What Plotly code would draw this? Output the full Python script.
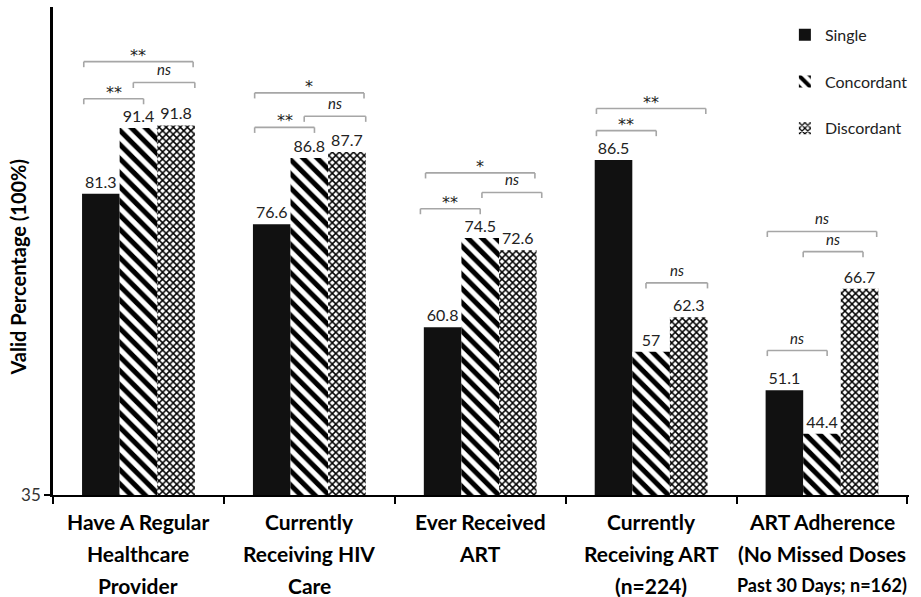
import plotly.graph_objects as go

# ---------------- data ----------------
categories = [
    "Have A Regular Healthcare Provider",
    "Currently Receiving HIV Care",
    "Ever Received ART",
    "Currently Receiving ART (n=224)",
    "ART Adherence (No Missed Doses Past 30 Days; n=162)",
]
category_lines = [
    ["Have A Regular", "Healthcare", "Provider"],
    ["Currently", "Receiving HIV", "Care"],
    ["Ever Received", "ART"],
    ["Currently", "Receiving ART", "(n=224)"],
    ["ART Adherence", "(No Missed Doses", "Past 30 Days; n=162)"],
]
series_names = ["Single", "Concordant", "Discordant"]
single = [81.3, 76.6, 60.8, 86.5, 51.1]
concordant = [91.4, 86.8, 74.5, 57, 44.4]
discordant = [91.8, 87.7, 72.6, 62.3, 66.7]
y_tick_values = [35]

# significance labels: (category index, comparison, label)
significance = [
    (0, "SC", "**"), (0, "CD", "ns"), (0, "SD", "**"),
    (1, "SC", "**"), (1, "CD", "ns"), (1, "SD", "*"),
    (2, "SC", "**"), (2, "CD", "ns"), (2, "SD", "*"),
    (3, "SC", "**"), (3, "CD", "ns"), (3, "SD", "**"),
    (4, "SC", "ns"), (4, "CD", "ns"), (4, "SD", "ns"),
]

# ---------------- layout of brackets (positions, not data) ----------------
bracket_level = {
    (0, "SC"): 95.9, (0, "CD"): 98.4, (0, "SD"): 101.6,
    (1, "SC"): 91.5, (1, "CD"): 93.2, (1, "SD"): 96.8,
    (2, "SC"): 79.0, (2, "CD"): 81.5, (2, "SD"): 84.5,
    (3, "SC"): 91.0, (3, "CD"): 67.6, (3, "SD"): 94.4,
    (4, "SC"): 57.2, (4, "CD"): 72.4, (4, "SD"): 75.5,
}
bracket_span = {"SC": (-0.32, 0.03), "CD": (-0.03, 0.33), "SD": (-0.32, 0.32)}
bracket_span_override = {(2, "SC"): (-0.35, 0.0), (2, "CD"): (0.01, 0.36),
                         (4, "CD"): (-0.11, 0.24)}

FONT = "Lato"
TEXT_COLOR = "#222222"

fig = go.Figure()
styles = [
    dict(color="#111111"),
    dict(color="white", pattern=dict(shape="\\", fgcolor="black", bgcolor="white",
                                     size=10, solidity=0.5, fillmode="replace", fgopacity=1)),
    dict(color="white", pattern=dict(shape="x", fgcolor="black", bgcolor="white",
                                     size=5, solidity=0.5, fillmode="replace", fgopacity=1)),
]
for name, vals, st in zip(series_names, [single, concordant, discordant], styles):
    fig.add_trace(go.Bar(
        x=categories, y=vals, name=name, legendgroup=name,
        marker=dict(line=dict(width=0), **st),
        texttemplate="%{y}", textposition="outside",
        textfont=dict(family=FONT, size=16, color=TEXT_COLOR),
        cliponaxis=False,
    ))

shapes = []
annotations = []
tick = 0.85
line_style = dict(color="#a6a6a6", width=1.6)
for gi, comp, label in significance:
    x0o, x1o = bracket_span_override.get((gi, comp), bracket_span[comp])
    x0, x1 = gi + x0o, gi + x1o
    yl = bracket_level[(gi, comp)]
    for (ax, ay, bx, by) in [(x0, yl - tick, x0, yl), (x0, yl, x1, yl), (x1, yl, x1, yl - tick)]:
        shapes.append(dict(type="line", xref="x", yref="y", x0=ax, y0=ay, x1=bx, y1=by,
                           line=line_style, layer="above"))
    italic = label == "ns"
    annotations.append(dict(
        x=(x0 + x1) / 2, y=yl, xref="x", yref="y", yanchor="bottom",
        yshift=2 if italic else -5,
        text=f"<i>{label}</i>" if italic else label, showarrow=False,
        font=dict(family=FONT if italic else "DejaVu Sans", size=15 if italic else 16,
                  color="#222222"),
    ))

for gi, lines in enumerate(category_lines):
    for li, txt in enumerate(lines):
        small = len(txt) > 17
        annotations.append(dict(
            x=gi, y=0, xref="x", yref="paper", yanchor="middle",
            yshift=-26 - 32 * li, text=f"<b>{txt}</b>", showarrow=False,
            font=dict(family=FONT, size=18 if small else 21, color="black"),
        ))

annotations.append(dict(
    x=-0.041, y=70.1, xref="paper", yref="y", xshift=-14,
    text="<b>Valid Percentage (100%)</b>",
    textangle=-90, showarrow=False, font=dict(family=FONT, size=20, color="black"),
))

fig.update_layout(
    width=921, height=597,
    margin=dict(l=53, r=12, t=7, b=102),
    plot_bgcolor="white", paper_bgcolor="white",
    barmode="group", bargap=0.34, bargroupgap=0,
    font=dict(family=FONT, color=TEXT_COLOR),
    showlegend=True,
    legend=dict(x=0.855, y=0.978, xanchor="left", yanchor="top",
                font=dict(family=FONT, size=16, color=TEXT_COLOR),
                traceorder="grouped", tracegroupgap=23, bgcolor="rgba(0,0,0,0)"),
    shapes=shapes, annotations=annotations,
)
fig.update_xaxes(
    showticklabels=False, tickson="boundaries", ticks="outside", ticklen=7, tickwidth=1.5,
    tickcolor="black", showline=True, linecolor="black", linewidth=1.5, showgrid=False,
    zeroline=False,
)
fig.update_yaxes(
    range=[35, 110], tickvals=y_tick_values, ticks="outside", ticklen=6, tickwidth=1.5,
    tickcolor="black", showline=True, linecolor="black", linewidth=2.5, showgrid=False,
    zeroline=False, tickfont=dict(family=FONT, size=17, color="#333333"),
)

fig.write_html("out.html", config={"displayModeBar": False},
               post_script="document.body.style.margin='0px';")
